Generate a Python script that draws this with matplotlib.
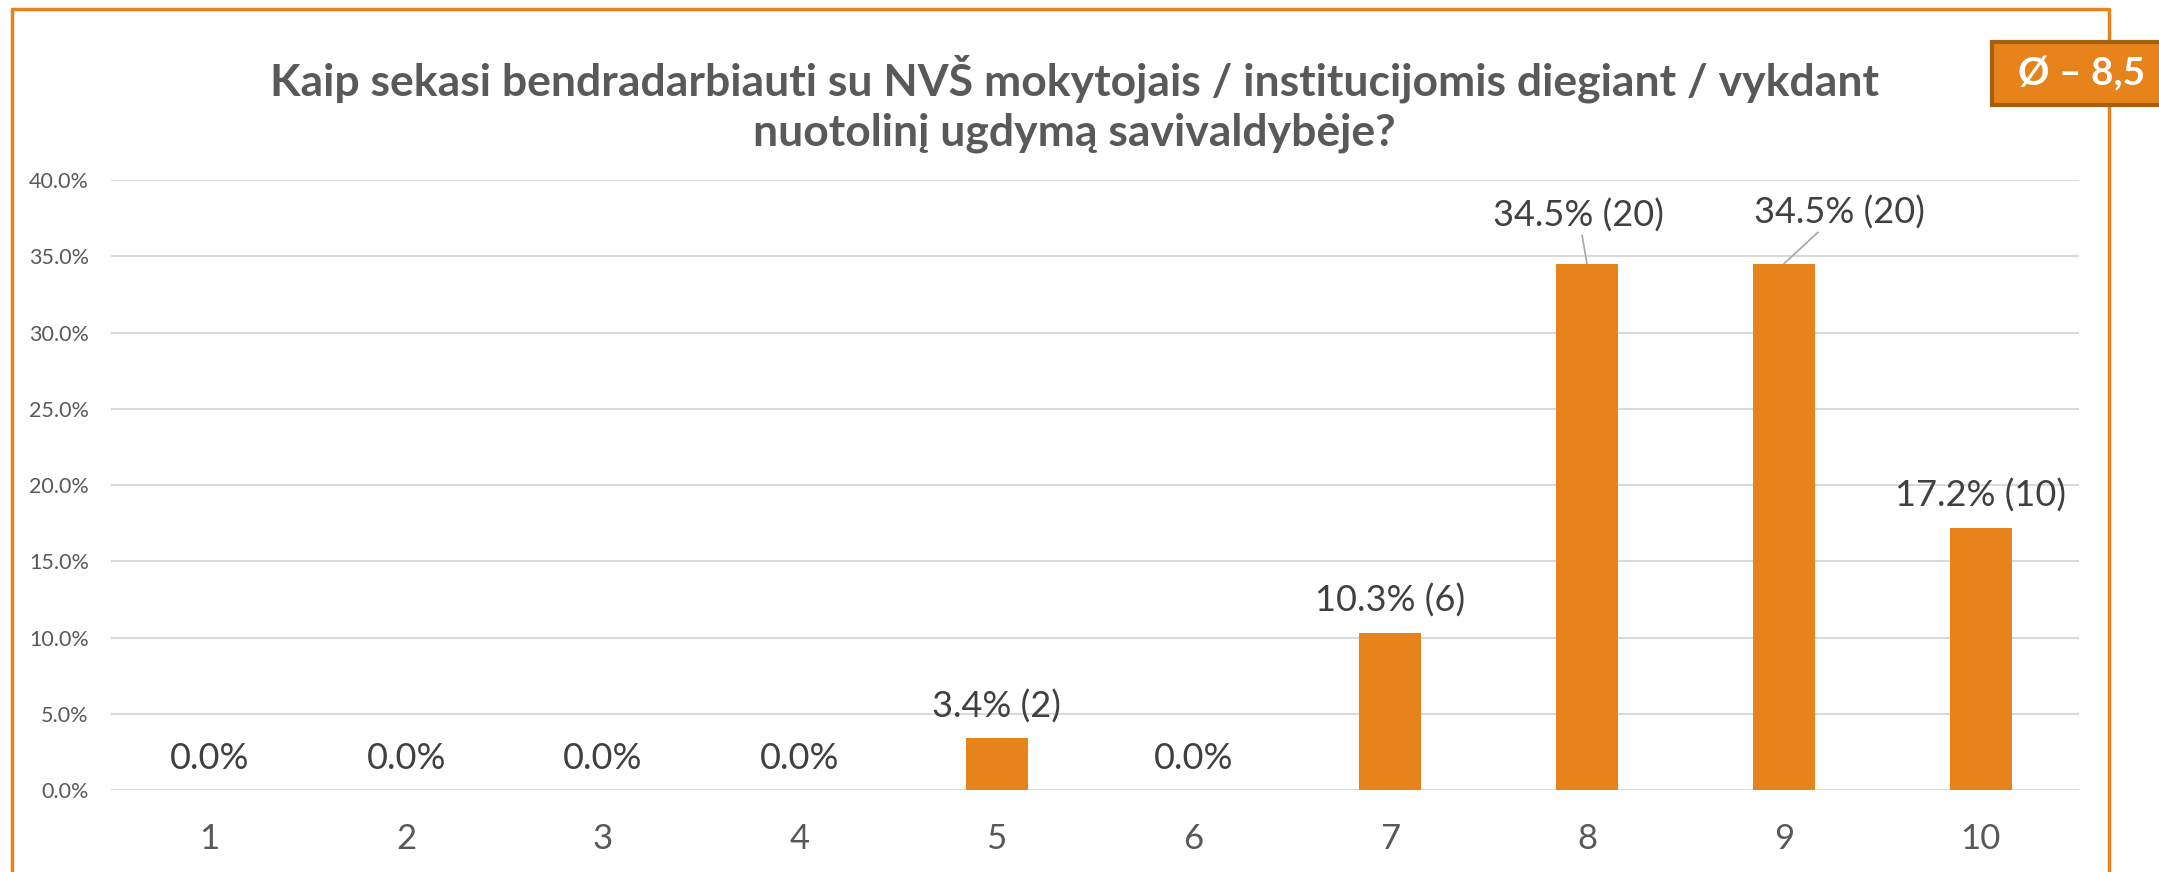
import matplotlib.pyplot as plt
from matplotlib.patches import Rectangle
from matplotlib.lines import Line2D
from matplotlib.ticker import PercentFormatter

plt.rcParams['font.family'] = ['Lato', 'DejaVu Sans']

# survey answers (scale 1..10)
categories = ['1', '2', '3', '4', '5', '6', '7', '8', '9', '10']
shares = [0.0, 0.0, 0.0, 0.0, 3.4, 0.0, 10.3, 34.5, 34.5, 17.2]
counts = [0, 0, 0, 0, 2, 0, 6, 20, 20, 10]

title = 'Kaip sekasi bendradarbiauti su NVŠ mokytojais / institucijomis diegiant / vykdant\nnuotolinį ugdymą savivaldybėje?'
average_label = 'Ø – 8,5'

orange = '#E6831A'
grey_text = '#595959'
label_text = '#404040'

W, H = 2159, 872
fig = plt.figure(figsize=(W / 100, H / 100), dpi=100)
ax = fig.add_axes([111 / W, 1 - 790 / H, (2079 - 111) / W, (790 - 180) / H])

x = list(range(len(categories)))
ax.bar(x, shares, width=0.315, color=orange, zorder=3)

ax.set_xlim(-0.5, len(categories) - 0.5)
ax.set_ylim(0, 40)
ax.set_yticks([0, 5, 10, 15, 20, 25, 30, 35, 40])
ax.yaxis.set_major_formatter(PercentFormatter(decimals=1))
ax.set_xticks(x)
ax.set_xticklabels(categories)
ax.tick_params(axis='x', length=0, labelsize=25, labelcolor=grey_text, pad=24)
ax.tick_params(axis='y', length=0, labelsize=15.5, labelcolor=grey_text, pad=16)
ax.grid(axis='y', color='#D9D9D9', linewidth=1.5, zorder=0)
for s in ax.spines.values():
    s.set_visible(False)

# data labels
for i, (v, c) in enumerate(zip(shares, counts)):
    txt = f'{v:.1f}%' if c == 0 else f'{v:.1f}% ({c})'
    if i == 7:
        ax.annotate(txt, xy=(i, v), xytext=(-6, 35), textcoords='offset points',
                    ha='center', va='center', fontsize=26, color=label_text,
                    arrowprops=dict(arrowstyle='-', color='#A6A6A6', lw=1.2, shrinkA=0, shrinkB=0))
    elif i == 8:
        ax.annotate(txt, xy=(i, v), xytext=(40, 37), textcoords='offset points',
                    ha='center', va='center', fontsize=26, color=label_text,
                    arrowprops=dict(arrowstyle='-', color='#A6A6A6', lw=1.2, shrinkA=0, shrinkB=0))
    else:
        ax.annotate(txt, xy=(i, v), xytext=(0, 23), textcoords='offset points',
                    ha='center', va='center', fontsize=26, color=label_text)

fig.text(1074 / W, 1 - 104 / H, title, ha='center', va='center', fontsize=32,
         fontweight='bold', color=grey_text, linespacing=1.3)

# orange frame around the chart (open at the bottom)
fig.add_artist(Line2D([12 / W, 12 / W, 2109 / W, 2109 / W],
                      [-0.01, 1 - 9 / H, 1 - 9 / H, -0.01],
                      color=orange, lw=2.5, transform=fig.transFigure))

# average box
fig.add_artist(Rectangle((1992 / W, 1 - 105 / H), 200 / W, 63 / H, transform=fig.transFigure,
                         facecolor=orange, edgecolor='#A5600F', lw=3, zorder=5))
fig.text(2082 / W, 1 - 74 / H, average_label, ha='center', va='center', fontsize=28,
         fontweight='bold', color='white', zorder=6)

fig.savefig('out.png', dpi=100)
